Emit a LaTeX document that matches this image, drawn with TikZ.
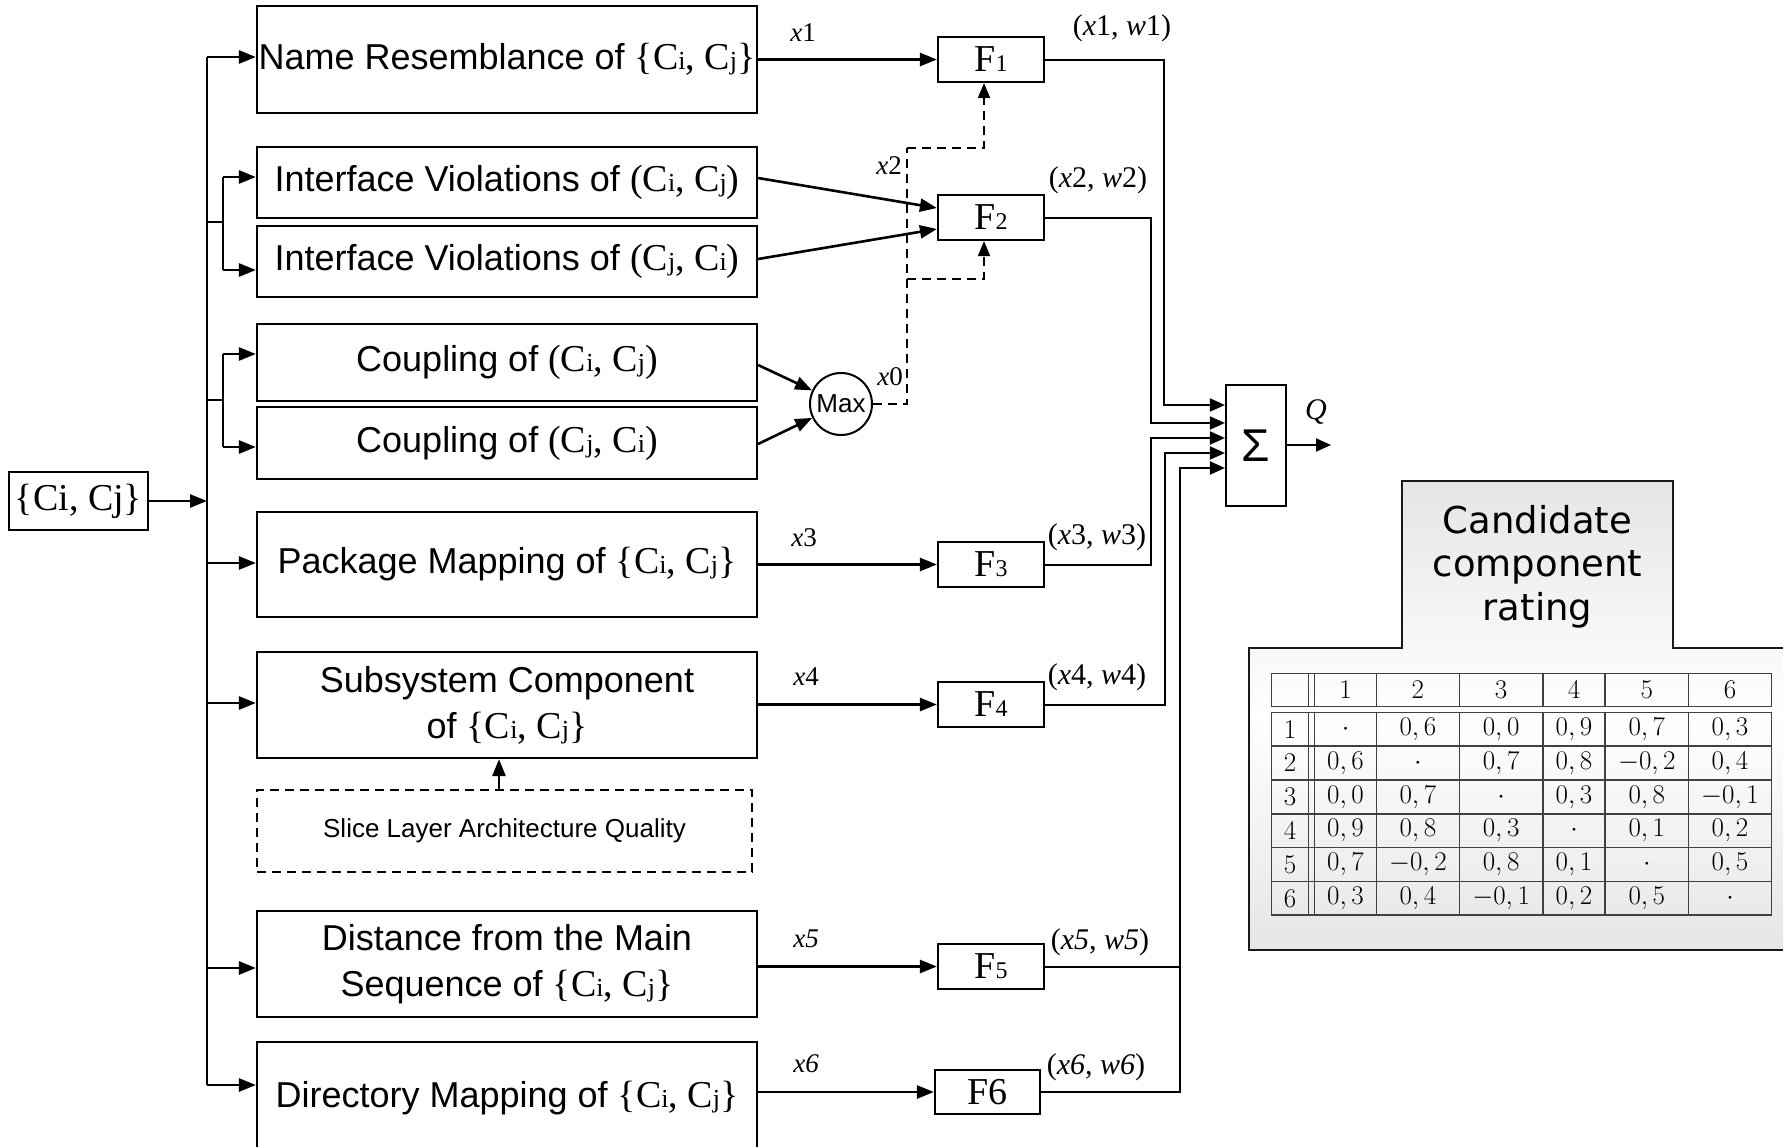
\RequirePackage{fix-cm}
\documentclass[tikz,border=0pt]{standalone}
\usepackage{fontspec}
\usetikzlibrary{arrows.meta,calc}
\newfontfamily\arialf{Liberation Sans}
\newfontfamily\tnr{Liberation Serif}
\newfontfamily\dejavu{DejaVu Sans}
\newcommand\Csub[1]{C{\fontsize{26}{26}\selectfont #1}}
\newcommand\SansT{\arialf\fontsize{36}{46}\selectfont}
\newcommand\SerT{\tnr\fontsize{38}{46}\selectfont}
\newcommand\BrPair{{\SerT\{\Csub{i}, \Csub{j}\}}}
\newcommand\PaPair[2]{{\SerT(\Csub{#1}, \Csub{#2})}}
\newcommand\Fl[1]{F{\fontsize{24}{24}\selectfont #1}}
\newcommand\trow[9]{%
  \node[cell] (t#1a) at (1290,#2) {$#3$};
  \node[cell] (t#1b) at (1345.5,#2) {$#4$};
  \node[cell] (t#1c) at (1417.9,#2) {$#5$};
  \node[cell] (t#1d) at (1501.1,#2) {$#6$};
  \node[cell] (t#1e) at (1574,#2) {$#7$};
  \node[cell] (t#1f) at (1646.8,#2) {$#8$};
  \node[cell] (t#1g) at (1730,#2) {$#9$};}
\begin{document}
\begin{tikzpicture}[x=1pt,y=-1pt,
  box/.style={draw, line width=2.2pt, inner sep=0pt, align=center, font=\SansT},
  fbox/.style={draw, line width=2.2pt, inner sep=0pt, minimum width=106pt, minimum height=45pt, font=\tnr\fontsize{38}{38}\selectfont},
  arr/.style={line width=2.6pt, -{Triangle[length=17pt,width=13pt]}},
  thinl/.style={line width=2pt},
  sarr/.style={line width=2pt, -{Triangle[length=15pt,width=13pt]}},
  dsh/.style={line width=2pt, dash pattern=on 9pt off 6pt},
  darr/.style={line width=2pt, dash pattern=on 9pt off 6pt, -{Triangle[length=15pt,width=12pt]}},
  lbl/.style={inner sep=0pt, font=\tnr\fontsize{27}{27}\selectfont},
  plbl/.style={inner sep=0pt, font=\tnr\fontsize{30}{30}\selectfont},
  cell/.style={inner sep=0pt, font=\fontsize{27}{27}\selectfont},
  tline/.style={line width=1.2pt, draw=black!75},
]
\useasboundingbox (0,0) rectangle (1783,1146);
\clip (0,0) rectangle (1783,1146);
\fill[white] (0,0) rectangle (1783,1146);

% input
\node[box, minimum width=139pt, minimum height=58pt, font=\SerT] (in) at (78.5,501) {\{Ci, Cj\}};

% feature boxes
\node[box, minimum width=500pt, minimum height=107pt] (name) at (507,59.5) {Name Resemblance of \BrPair};
\node[box, minimum width=500pt, minimum height=71pt] (iv1) at (507,182.5) {Interface Violations of \PaPair{i}{j}};
\node[box, minimum width=500pt, minimum height=71pt] (iv2) at (507,261.5) {Interface Violations of \PaPair{j}{i}};
\node[box, minimum width=500pt, minimum height=77pt] (cp1) at (507,362.5) {Coupling of \PaPair{i}{j}};
\node[box, minimum width=500pt, minimum height=72pt] (cp2) at (507,443) {Coupling of \PaPair{j}{i}};
\node[box, minimum width=500pt, minimum height=105pt] (pkg) at (507,564.5) {Package Mapping of \BrPair};
\node[box, minimum width=500pt, minimum height=106pt] (sub) at (507,705) {Subsystem Component\\of \BrPair};
\node[box, dashed, dash pattern=on 9pt off 6pt, minimum width=495pt, minimum height=82pt, font=\arialf\fontsize{26}{26}\selectfont] (slice) at (504.5,831) {Slice Layer Architecture Quality};
\node[box, minimum width=500pt, minimum height=106pt] (dist) at (507,964) {Distance from the Main\\Sequence of \BrPair};
\node[box, minimum width=500pt, minimum height=112pt] (dir) at (507,1098) {Directory Mapping of \BrPair};

% F boxes
\node[fbox] (F1) at (991,59.5) {\Fl{1}};
\node[fbox] (F2) at (991,217.5) {\Fl{2}};
\node[fbox] (F3) at (991,564.5) {\Fl{3}};
\node[fbox] (F4) at (991,704.5) {\Fl{4}};
\node[fbox] (F5) at (991,966.5) {\Fl{5}};
\node[fbox, minimum width=105pt, minimum height=44pt] (F6) at (987.5,1092) {F6};

% max and sigma
\node[draw, circle, line width=2pt, minimum size=62pt, inner sep=0pt, font=\arialf\fontsize{26}{26}\selectfont] (max) at (841,404) {Max};
\node[box, minimum width=60pt, minimum height=121pt, font=\arialf\fontsize{46}{46}\selectfont] (sig) at (1256,445.5) {Σ};

% trunk and branches
\coordinate (jname) at (207,57);
\coordinate (jiv) at (207,222);
\coordinate (bivA) at (223,177);
\coordinate (bivB) at (223,270);
\coordinate (jcp) at (207,400);
\coordinate (bcpA) at (223,354);
\coordinate (bcpB) at (223,447);
\coordinate (jpkg) at (207,563);
\coordinate (jsub) at (207,703);
\coordinate (jdist) at (207,968);
\coordinate (jdir) at (207,1085);
\coordinate (jin) at (207,501);

\draw[thinl] (jname) -- (jdir);
\draw[arr] (in.east) -- (jin);
\draw[arr] (jname) -- (jname -| name.west);
\draw[thinl] (jiv) -- (jiv -| bivA);
\draw[line width=2.6pt] (bivA) -- (bivB);
\draw[arr] (bivA) -- (bivA -| iv1.west);
\draw[arr] (bivB) -- (bivB -| iv2.west);
\draw[thinl] (jcp) -- (jcp -| bcpA);
\draw[line width=2.6pt] (bcpA) -- (bcpB);
\draw[arr] (bcpA) -- (bcpA -| cp1.west);
\draw[arr] (bcpB) -- (bcpB -| cp2.west);
\draw[arr] (jpkg) -- (jpkg -| pkg.west);
\draw[arr] (jsub) -- (jsub -| sub.west);
\draw[arr] (jdist) -- (jdist -| dist.west);
\draw[arr] (jdir) -- (jdir -| dir.west);

% boxes to F
\draw[arr] (F1.west -| name.east) -- (F1.west);
\draw[arr] (iv1.east |- 0,178) -- (F2.west |- 0,208);
\draw[arr] (iv2.east |- 0,259) -- (F2.west |- 0,229);
\draw[arr] (cp1.east |- 0,365) -- (max);
\draw[arr] (cp2.east |- 0,444) -- (max);
\draw[arr] (F3.west -| pkg.east) -- (F3.west);
\draw[arr] (F4.west -| sub.east) -- (F4.west);
\draw[arr] (F5.west -| dist.east) -- (F5.west);
\draw[arr] (F6.west -| dir.east) -- (F6.west);
\draw[arr] (slice.north -| 499,0) -- (sub.south -| 499,0);

% dashed x0 / x2
\coordinate (d1) at (907,148);
\coordinate (d2) at (907,279);
\draw[dsh] (max.east) -| (d1);
\draw[darr] (d1) -| ([xshift=-7pt]F1.south);
\draw[darr] (d2) -| ([xshift=-7pt]F2.south);

% outputs to sigma
\coordinate (k1) at (1164,405);
\coordinate (k2) at (1151,423);
\coordinate (k3) at (1151,438);
\coordinate (k4) at (1165,453);
\coordinate (k5) at (1180,468);
\draw[sarr] (F1.east) -| (k1) -- (k1 -| sig.west);
\draw[sarr] (F2.east) -| (k2) -- (k2 -| sig.west);
\draw[sarr] (F3.east) -| (k3) -- (k3 -| sig.west);
\draw[sarr] (F4.east) -| (k4) -- (k4 -| sig.west);
\draw[sarr] (F5.east) -| (k5) -- (k5 -| sig.west);
\draw[thinl] (F6.east) -| (k5 |- F5.east);
\coordinate (qend) at (1331,445);
\draw[sarr] (sig.east |- qend) -- (qend);

% labels
\node[lbl] (lx1) at (803,33) {\textit{x}1};
\node[lbl] (lx2) at (889,166) {\textit{x}2};
\node[lbl] (lx0) at (890,377) {\textit{x}0};
\node[lbl] (lx3) at (804,538) {\textit{x}3};
\node[lbl] (lx4) at (806,677) {\textit{x}4};
\node[lbl] (lx5) at (806,939) {\textit{x5}};
\node[lbl] (lx6) at (806,1064) {\textit{x6}};
\node[plbl] (lp1) at (1122,28) {(\textit{x}1, \textit{w}1)};
\node[plbl] (lp2) at (1098,180) {(\textit{x}2, \textit{w}2)};
\node[plbl] (lp3) at (1097,537) {(\textit{x}3, \textit{w}3)};
\node[plbl] (lp4) at (1097,677) {(\textit{x}4, \textit{w}4)};
\node[plbl] (lp5) at (1100,942) {(\textit{x5}, \textit{w5})};
\node[plbl] (lp6) at (1096,1067) {(\textit{x6}, \textit{w6})};
\node[plbl] (lq) at (1316,412) {\textit{Q}};

% candidate component rating panel
\shadedraw[top color=black!10, bottom color=black!10, middle color=white, line width=2.5pt, draw=black!90]
  (1249,950) -- (1249,648) -- (1402,648) -- (1402,481) -- (1673,481) -- (1673,648) -- (1800,648) -- (1800,950) -- cycle;
\node[align=center, inner sep=0pt, font=\dejavu\fontsize{37}{43.5}\selectfont] (ctitle) at (1537.5,566.5) {Candidate\\component\\rating};

% table
\draw[tline] (1271.6,673.3) rectangle (1771.4,706.7);
\draw[tline] (1271.6,712.7) rectangle (1771.4,915);
\foreach \vx in {1308.3,1314.7,1376.4,1459.3,1542.9,1605.0,1688.6} {
  \draw[tline] (\vx,673.3) -- (\vx,706.7);
  \draw[tline] (\vx,712.7) -- (\vx,915);
}
\foreach \hy in {746,780,814,847.7,881.7} {
  \draw[tline] (1271.6,\hy) -- (1771.4,\hy);
}
\trow{0}{690}{}{1}{2}{3}{4}{5}{6}
\trow{1}{729.4}{1}{\cdot}{0,6}{0,0}{0,9}{0,7}{0,3}
\trow{2}{763}{2}{0,6}{\cdot}{0,7}{0,8}{-0,2}{0,4}
\trow{3}{797}{3}{0,0}{0,7}{\cdot}{0,3}{0,8}{-0,1}
\trow{4}{830.9}{4}{0,9}{0,8}{0,3}{\cdot}{0,1}{0,2}
\trow{5}{864.7}{5}{0,7}{-0,2}{0,8}{0,1}{\cdot}{0,5}
\trow{6}{898.4}{6}{0,3}{0,4}{-0,1}{0,2}{0,5}{\cdot}
\end{tikzpicture}
\end{document}
